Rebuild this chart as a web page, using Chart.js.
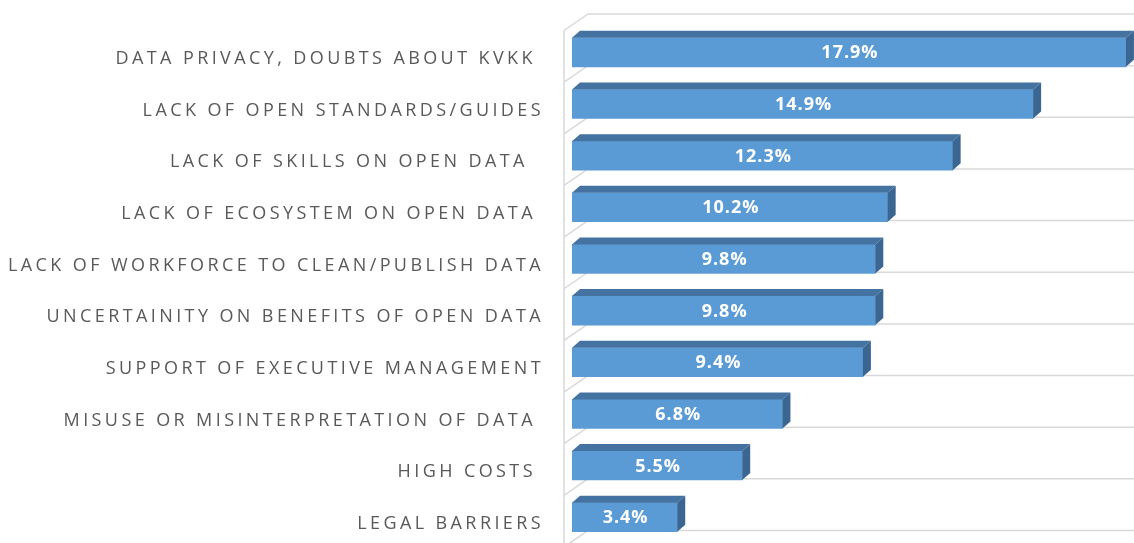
<!DOCTYPE html>
<html>
<head>
<meta charset="utf-8">
<script src="https://cdn.jsdelivr.net/npm/chart.js@4.4.1/dist/chart.umd.min.js"></script>
<style>
  html, body { margin: 0; padding: 0; background: #fff; }
  #wrap { width: 1134px; height: 543px; }
</style>
</head>
<body>
<div id="wrap"><canvas id="chart"></canvas></div>
<script>
// labels keep the trailing spaces of the original sheet
const categories = [
    "DATA PRIVACY, DOUBTS ABOUT KVKK ",
    "LACK OF OPEN STANDARDS/GUIDES",
    "LACK OF SKILLS ON OPEN DATA  ",
    "LACK OF ECOSYSTEM ON OPEN DATA ",
    "LACK OF WORKFORCE TO CLEAN/PUBLISH DATA",
    "UNCERTAINITY ON BENEFITS OF OPEN DATA",
    "SUPPORT OF EXECUTIVE MANAGEMENT",
    "MISUSE OR MISINTERPRETATION OF DATA ",
    "HIGH COSTS ",
    "LEGAL BARRIERS"
];
const shares = [17.9, 14.9, 12.3, 10.2, 9.8, 9.8, 9.4, 6.8, 5.5, 3.4];
const axisMax = 18.16;

const frontColor = "#5B9BD5";
const topColor = "#4573A1";
const sideColor = "#3B6692";
const wallColor = "#d9d9d9";

// fake excel 3d: depth offset of the bars and of the back wall
const barDepth = { dx: 8, dy: -7 };
const wall = { back: 16, front: -8, rise: -12.5, drop: 16.5 };

const bars3d = {
    id: "bars3d",
    beforeDraw(chart) {
        // nudge the category labels down a bit and spread the letters
        const ctx = chart.ctx;
        ctx.save();
        ctx.translate(0, 6.5);
        ctx.letterSpacing = "3.4px";
    },
    beforeDatasetsDraw(chart) {
        const ctx = chart.ctx;
        ctx.restore();
        const yScale = chart.scales.y;
        const left = chart.chartArea.left;
        ctx.save();
        ctx.strokeStyle = wallColor;
        ctx.lineWidth = 1.5;
        ctx.beginPath();
        for (let k = 0; k <= categories.length; k++) {
            let yb = yScale.getPixelForValue(k - 0.5) + wall.rise;
            ctx.moveTo(chart.width, yb);
            ctx.lineTo(left + wall.back, yb);
            ctx.lineTo(left + wall.front, yb + wall.drop);
        }
        let topY = yScale.getPixelForValue(-0.5) + wall.rise + wall.drop;
        ctx.moveTo(left + wall.front, topY);
        ctx.lineTo(left + wall.front, chart.height);
        ctx.stroke();
        ctx.restore();
    },
    afterDatasetsDraw(chart) {
        const ctx = chart.ctx;
        const meta = chart.getDatasetMeta(0);
        ctx.save();
        meta.data.forEach((bar, i) => {
            const p = bar.getProps(["x", "y", "base", "height"], true);
            const top = p.y - p.height / 2;
            const bottom = p.y + p.height / 2;
            const x0 = Math.min(p.base, p.x), x1 = Math.max(p.base, p.x);

            ctx.fillStyle = topColor;
            ctx.beginPath();
            ctx.moveTo(x0, top);
            ctx.lineTo(x0 + barDepth.dx, top + barDepth.dy);
            ctx.lineTo(x1 + barDepth.dx, top + barDepth.dy);
            ctx.lineTo(x1, top);
            ctx.closePath();
            ctx.fill();

            ctx.fillStyle = sideColor;
            ctx.beginPath();
            ctx.moveTo(x1, top);
            ctx.lineTo(x1 + barDepth.dx, top + barDepth.dy);
            ctx.lineTo(x1 + barDepth.dx, bottom + barDepth.dy);
            ctx.lineTo(x1, bottom);
            ctx.closePath();
            ctx.fill();

            ctx.letterSpacing = "1px";
            ctx.fillStyle = "#ffffff";
            ctx.font = "bold 18px 'Open Sans'";
            ctx.textAlign = "center";
            ctx.textBaseline = "middle";
            ctx.fillText(shares[i].toFixed(1) + "%", (x0 + x1) / 2 + 1, p.y + 1);
        });
        ctx.restore();
    }
};

new Chart(document.getElementById("chart").getContext("2d"), {
    type: "bar",
    data: {
        labels: categories,
        datasets: [{
            data: shares,
            backgroundColor: frontColor,
            borderWidth: 0,
            barThickness: 29
        }]
    },
    options: {
        indexAxis: "y",
        animation: false,
        responsive: true,
        maintainAspectRatio: false,
        layout: { padding: { top: 26.5, right: 0, bottom: 0, left: 0 } },
        scales: {
            x: { display: false, min: 0, max: axisMax },
            y: {
                grid: { display: false, drawTicks: false },
                border: { display: false },
                ticks: {
                    color: "#595959",
                    font: { family: "'Open Sans'", size: 18 },
                    padding: 28
                },
                afterFit(scale) {
                    scale.width = 572;
                    // labels may hang over the edges, the bands must fill the height
                    scale.paddingTop = 0;
                    scale.paddingBottom = 0;
                }
            }
        },
        plugins: {
            legend: { display: false },
            tooltip: { enabled: false }
        }
    },
    plugins: [bars3d]
});
</script>
</body>
</html>
